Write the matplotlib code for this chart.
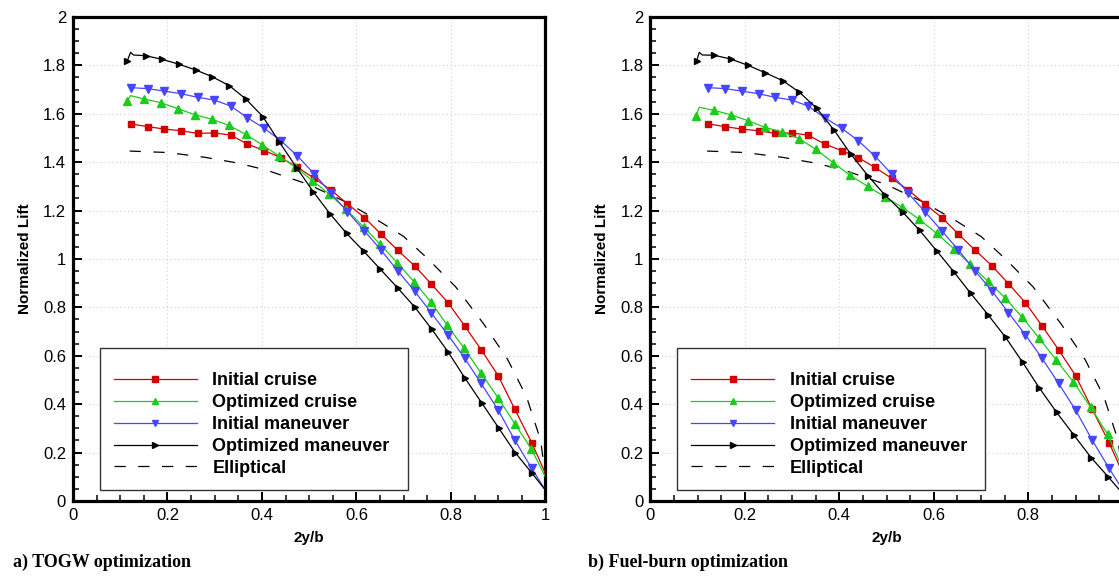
# -*- coding: utf-8 -*-
"""
Spanwise lift distributions, TOGW and fuel-burn optimizations
"""

import numpy as np
import matplotlib
matplotlib.use('Agg')
import matplotlib.pyplot as plt
from matplotlib.patches import Rectangle


# Data

# initial wing stations (same in both panels)
x_init = [0.123, 0.158, 0.193, 0.229, 0.264, 0.299, 0.334, 0.369, 0.405, 0.440,
          0.475, 0.511, 0.546, 0.581, 0.617, 0.652, 0.687, 0.723, 0.758, 0.794,
          0.829, 0.864, 0.900, 0.935, 0.971, 1.0]
init_cruise = [1.558, 1.547, 1.537, 1.530, 1.519, 1.521, 1.512, 1.475, 1.448, 1.419,
               1.379, 1.333, 1.285, 1.228, 1.171, 1.103, 1.037, 0.972, 0.898, 0.819,
               0.724, 0.625, 0.518, 0.380, 0.241, 0.114]
init_maneuver = [1.708, 1.704, 1.694, 1.683, 1.668, 1.657, 1.632, 1.584, 1.540, 1.489,
                 1.426, 1.351, 1.271, 1.196, 1.116, 1.037, 0.952, 0.868, 0.778, 0.686,
                 0.590, 0.486, 0.376, 0.252, 0.135, 0.045]

# a) TOGW optimization
x_opt_cruise_a = [0.115, 0.122, 0.151, 0.186, 0.222, 0.258, 0.295, 0.330, 0.366, 0.401,
                  0.436, 0.471, 0.507, 0.542, 0.578, 0.615, 0.650, 0.686, 0.722, 0.757,
                  0.792, 0.828, 0.864, 0.900, 0.936, 0.970, 1.0]
opt_cruise_a = [1.653, 1.675, 1.661, 1.646, 1.621, 1.596, 1.577, 1.552, 1.515, 1.471,
                1.426, 1.379, 1.324, 1.269, 1.206, 1.133, 1.061, 0.985, 0.906, 0.824,
                0.727, 0.631, 0.528, 0.426, 0.317, 0.216, 0.100]
x_opt_man_a = [0.115, 0.122, 0.128, 0.154, 0.189, 0.224, 0.260, 0.295, 0.331, 0.366,
               0.402, 0.437, 0.4735, 0.509, 0.544, 0.579, 0.615, 0.650, 0.687, 0.724,
               0.759, 0.794, 0.829, 0.865, 0.901, 0.936, 0.972, 1.0]
opt_man_a = [1.819, 1.854, 1.843, 1.840, 1.825, 1.805, 1.781, 1.753, 1.716, 1.661,
             1.588, 1.483, 1.377, 1.277, 1.187, 1.106, 1.033, 0.959, 0.881, 0.800,
             0.711, 0.616, 0.510, 0.406, 0.302, 0.200, 0.114, 0.045]

# b) Fuel-burn optimization
x_opt_cruise_b = [0.0965, 0.1035, 0.1346, 0.1706, 0.206, 0.2426, 0.279, 0.315, 0.3505,
                  0.387, 0.4225, 0.460, 0.4966, 0.532, 0.5686, 0.606, 0.642, 0.677,
                  0.714, 0.7506, 0.787, 0.822, 0.859, 0.895, 0.932, 0.968, 1.0]
opt_cruise_b = [1.591, 1.627, 1.614, 1.596, 1.572, 1.544, 1.525, 1.497, 1.453,
                1.398, 1.346, 1.300, 1.257, 1.215, 1.165, 1.106, 1.043, 0.978,
                0.909, 0.840, 0.759, 0.675, 0.583, 0.493, 0.387, 0.275, 0.130]
x_opt_man_b = [0.098, 0.1035, 0.110, 0.135, 0.1706, 0.207, 0.2426, 0.280, 0.315, 0.352,
               0.3887, 0.424, 0.461, 0.4966, 0.534, 0.570, 0.606, 0.642, 0.678, 0.715,
               0.752, 0.788, 0.823, 0.860, 0.897, 0.933, 0.969, 1.0]
opt_man_b = [1.818, 1.854, 1.843, 1.842, 1.826, 1.800, 1.770, 1.737, 1.690, 1.623,
             1.533, 1.434, 1.343, 1.264, 1.194, 1.118, 1.034, 0.948, 0.858, 0.769,
             0.676, 0.573, 0.468, 0.366, 0.271, 0.179, 0.100, 0.030]

# elliptical reference
x_ell = [0.12, 0.20, 0.28, 0.35, 0.41, 0.50, 0.58, 0.65, 0.70, 0.75, 0.81, 0.87,
         0.92, 0.96, 0.99, 1.0]
ell = [1.446, 1.440, 1.420, 1.396, 1.367, 1.307, 1.233, 1.154, 1.093, 1.003, 0.885,
       0.730, 0.585, 0.431, 0.250, 0.100]

labels = ['Initial cruise', 'Optimized cruise', 'Initial maneuver',
          'Optimized maneuver', 'Elliptical']
captions = ['a) TOGW optimization', 'b) Fuel-burn optimization']
xtick_labels = ['0', '0.2', '0.4', '0.6', '0.8', '1']
ytick_labels = ['0', '0.2', '0.4', '0.6', '0.8', '1', '1.2', '1.4', '1.6', '1.8', '2']

red = '#d40000'
green = '#1ccc1c'
blue = '#4646ff'

plt.rcParams['font.family'] = ['Liberation Sans', 'DejaVu Sans']


def draw_panel(ax, xg, yg, xk, yk, xlabs):
    # markers skipped on the small kinks at the root and on the tip point
    n_g = len(xg)
    n_k = len(xk)
    mk_g = [0] + list(range(2, n_g - 1))
    mk_k = [0] + list(range(3, n_k - 1))
    mk_i = list(range(len(x_init) - 1))

    ax.plot(x_init, init_cruise, '-', color=red, lw=0.9, marker='s', ms=4.6,
            mfc=red, mec=red, markevery=mk_i, label=labels[0], zorder=4)
    ax.plot(xg, yg, '-', color=green, lw=0.9, marker='^', ms=5.2,
            mfc=green, mec=green, markevery=mk_g, label=labels[1], zorder=4)
    ax.plot(x_init, init_maneuver, '-', color=blue, lw=0.9, marker='v', ms=5.2,
            mfc=blue, mec=blue, markevery=mk_i, label=labels[2], zorder=4)
    ax.plot(xk, yk, '-', color='black', lw=0.9, marker='>', ms=5.0,
            mfc='black', mec='black', markevery=mk_k, label=labels[3], zorder=4)
    ax.plot(x_ell, ell, color='black', lw=0.9, linestyle=(0, (9, 10)),
            label=labels[4], zorder=3)

    ax.set_xlim(0, 1)
    ax.set_ylim(0, 2)
    ax.set_xticks(np.arange(0, 1.01, 0.2))
    ax.set_yticks(np.arange(0, 2.01, 0.2))
    ax.set_xticks(np.arange(0, 1.01, 0.05), minor=True)
    ax.set_yticks(np.arange(0, 2.01, 0.05), minor=True)
    ax.set_xticklabels(xlabs)
    ax.set_yticklabels(ytick_labels)
    ax.tick_params(which='both', direction='in', top=False, right=False,
                   labelsize=12, pad=5)
    ax.tick_params(which='major', length=6.5, width=1.4)
    ax.tick_params(which='minor', length=4, width=1.1)
    for s in ax.spines.values():
        s.set_linewidth(2.3)
    ax.grid(True, which='major', color='#d0d0d0', lw=0.8, linestyle=(0, (1, 2.5)))
    ax.set_axisbelow(True)

    ax.set_xlabel('2y/b', fontsize=11, fontweight='bold', labelpad=6)
    ax.set_ylabel('Normalized Lift', fontsize=11, fontweight='bold', labelpad=8)

    # legend box
    box = Rectangle((0.057, 0.0227), 0.652, 0.293, transform=ax.transAxes,
                    facecolor='white', edgecolor='#333333', lw=1.0, zorder=2.5)
    ax.add_patch(box)
    leg = ax.legend(loc='upper left', bbox_to_anchor=(0.0868, 0.266), frameon=False,
                    prop={'weight': 'bold', 'size': 13}, handlelength=4.6,
                    handletextpad=0.85, labelspacing=0.27, borderpad=0.0,
                    borderaxespad=0.0, markerscale=0.9)
    leg.set_zorder(5)


fig = plt.figure(figsize=(11.19, 5.82), dpi=100)
ax1 = fig.add_axes([0.0652, 0.1392, 0.4222, 0.8316])
ax2 = fig.add_axes([0.5812, 0.1392, 0.4222, 0.8316])

draw_panel(ax1, x_opt_cruise_a, opt_cruise_a, x_opt_man_a, opt_man_a, xtick_labels)
# the right panel runs past the figure edge, its "1" label is not shown
draw_panel(ax2, x_opt_cruise_b, opt_cruise_b, x_opt_man_b, opt_man_b,
           xtick_labels[:-1] + [''])

fig.text(0.0112, 0.026, captions[0], family=['Liberation Serif', 'DejaVu Serif'],
         fontsize=13, fontweight='bold', ha='left', va='baseline')
fig.text(0.5254, 0.026, captions[1], family=['Liberation Serif', 'DejaVu Serif'],
         fontsize=13, fontweight='bold', ha='left', va='baseline')

fig.savefig('out.png', dpi=100)
